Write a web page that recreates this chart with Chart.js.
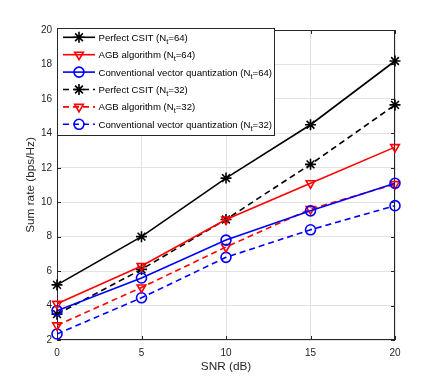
<!DOCTYPE html>
<html>
<head>
<meta charset="utf-8">
<script src="https://cdn.jsdelivr.net/npm/chart.js@4.4.0/dist/chart.umd.min.js"></script>
<style>
  html, body { margin: 0; padding: 0; background: #fff; }
</style>
</head>
<body>
<canvas id="chart" width="436" height="382"></canvas>
<script>
// x values (SNR in dB)
const snr = [0, 5, 10, 15, 20];

// sum rate
const perfect64 = [5.2, 8.0, 11.4, 14.5, 18.2];
const agb64 = [4.1, 6.3, 9.0, 11.1, 13.2];
const cvq64 = [3.7, 5.6, 7.8, 9.5, 11.1];
const perfect32 = [3.5, 6.1, 9.0, 12.2, 15.65];
const agb32 = [2.85, 5.05, 7.4, 9.6, 11.05];
const cvq32 = [2.35, 4.45, 6.8, 8.4, 9.8];

// legend text split as [before subscript, subscript, after]
const labels = [
  ["Perfect CSIT (N", "t", "=64)"],
  ["AGB algorithm (N", "t", "=64)"],
  ["Conventional vector quantization (N", "t", "=64)"],
  ["Perfect CSIT (N", "t", "=32)"],
  ["AGB algorithm (N", "t", "=32)"],
  ["Conventional vector quantization (N", "t", "=32)"]
];

const FONT = "'Liberation Sans', Arial, Helvetica, sans-serif";
const AXIS = "#262626";

const toPts = arr => arr.map((v, i) => ({ x: snr[i], y: v }));

function series(data, color, style, dashed, label) {
  return {
    label: label.join(""),
    parts: label,
    data: toPts(data),
    borderColor: color,
    borderWidth: 1.6,
    borderDash: dashed ? [6, 4] : [],
    pointStyle: style,
    pointRadius: style === "star" ? 5.5 : 5,
    pointRotation: style === "triangle" ? 180 : 0,
    pointBorderColor: color,
    pointBackgroundColor: "rgba(0,0,0,0)",
    pointBorderWidth: 1.6,
    pointHoverRadius: 5,
    fill: false,
    tension: 0,
    clip: false
  };
}

// axes box with inner tick marks, MATLAB style
const boxPlugin = {
  id: "box",
  beforeDatasetsDraw(chart) {
    const { ctx, chartArea: a, scales } = chart;
    ctx.save();
    ctx.strokeStyle = AXIS;
    ctx.lineWidth = 1;
    ctx.strokeRect(a.left + 0.5, a.top + 0.5, a.right - a.left - 1, a.bottom - a.top - 1);
    const tl = 4;
    ctx.beginPath();
    scales.x.ticks.forEach(t => {
      const x = Math.round(scales.x.getPixelForValue(t.value)) + 0.5;
      ctx.moveTo(x, a.bottom); ctx.lineTo(x, a.bottom - tl);
      ctx.moveTo(x, a.top); ctx.lineTo(x, a.top + tl);
    });
    scales.y.ticks.forEach(t => {
      const y = Math.round(scales.y.getPixelForValue(t.value)) + 0.5;
      ctx.moveTo(a.left, y); ctx.lineTo(a.left + tl, y);
      ctx.moveTo(a.right, y); ctx.lineTo(a.right - tl, y);
    });
    ctx.stroke();
    ctx.restore();
  }
};

// legend drawn inside the plot, upper left
const legendPlugin = {
  id: "boxLegend",
  afterDraw(chart) {
    const { ctx } = chart;
    const x0 = 57, y0 = 28, w = 217, h = 107;
    const rowH = 17.4;
    ctx.save();
    ctx.fillStyle = "#fff";
    ctx.fillRect(x0, y0, w, h);
    ctx.strokeStyle = AXIS;
    ctx.lineWidth = 1;
    ctx.strokeRect(x0 + 0.5, y0 + 0.5, w, h);

    chart.data.datasets.forEach((ds, i) => {
      const y = y0 + 9.3 + i * rowH;
      ctx.strokeStyle = ds.borderColor;
      ctx.lineWidth = ds.borderWidth;
      ctx.setLineDash(ds.borderDash);
      ctx.beginPath();
      ctx.moveTo(63, y);
      ctx.lineTo(95, y);
      ctx.stroke();
      ctx.setLineDash([]);
      ctx.lineWidth = ds.pointBorderWidth;
      ctx.fillStyle = "rgba(0,0,0,0)";
      Chart.helpers.drawPoint(ctx, {
        pointStyle: ds.pointStyle,
        radius: ds.pointRadius,
        rotation: ds.pointRotation,
        borderWidth: ds.pointBorderWidth
      }, 79, y);

      const [pre, sub, post] = ds.parts;
      let tx = 98.5;
      ctx.fillStyle = "#000";
      ctx.textBaseline = "alphabetic";
      ctx.font = "9.6px " + FONT;
      ctx.fillText(pre, tx, y + 3.5);
      tx += ctx.measureText(pre).width;
      ctx.font = "7.5px " + FONT;
      ctx.fillText(sub, tx, y + 6.5);
      tx += ctx.measureText(sub).width;
      ctx.font = "9.6px " + FONT;
      ctx.fillText(post, tx, y + 3.5);
    });
    ctx.restore();
  }
};

new Chart(document.getElementById("chart"), {
  type: "line",
  data: {
    datasets: [
      series(perfect64, "#000000", "star", false, labels[0]),
      series(agb64, "#ff0000", "triangle", false, labels[1]),
      series(cvq64, "#0000ff", "circle", false, labels[2]),
      series(perfect32, "#000000", "star", true, labels[3]),
      series(agb32, "#ff0000", "triangle", true, labels[4]),
      series(cvq32, "#0000ff", "circle", true, labels[5])
    ]
  },
  options: {
    responsive: false,
    animation: false,
    devicePixelRatio: 1,
    layout: { padding: { top: 30, right: 41, bottom: 0, left: 0 } },
    plugins: {
      legend: { display: false },
      tooltip: { enabled: false }
    },
    scales: {
      x: {
        type: "linear",
        min: 0,
        max: 20,
        ticks: { stepSize: 5, padding: 7, color: AXIS, font: { family: FONT, size: 10 } },
        grid: { color: "#e3e3e3", drawTicks: false },
        border: { display: false },
        title: {
          display: true,
          text: "SNR (dB)",
          color: AXIS,
          font: { family: FONT, size: 11.8 },
          padding: { top: 0, bottom: 8 }
        },
        afterFit: s => { s.height = 42; }
      },
      y: {
        min: 2,
        max: 20,
        ticks: { stepSize: 2, padding: 5, color: AXIS, font: { family: FONT, size: 10 } },
        grid: { color: "#e3e3e3", drawTicks: false },
        border: { display: false },
        title: {
          display: true,
          text: "Sum rate (bps/Hz)",
          color: AXIS,
          font: { family: FONT, size: 11.8 },
          padding: { top: 24, bottom: 0 }
        },
        afterFit: s => { s.width = 57; }
      }
    }
  },
  plugins: [boxPlugin, legendPlugin]
});
</script>
</body>
</html>
